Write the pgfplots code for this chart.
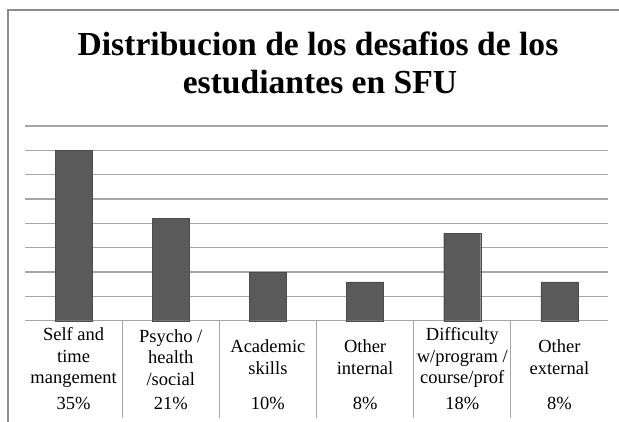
\documentclass[border=0pt]{standalone}
\usepackage{pgfplots}
\pgfplotsset{compat=1.18}
\usepackage{fontspec}
\setmainfont{Liberation Serif}
\definecolor{barc}{HTML}{5A5A5A}
\definecolor{gridc}{HTML}{A6A6A6}
\definecolor{framec}{HTML}{8C8C8C}
\begin{document}
\begin{tikzpicture}
\path[use as bounding box] (0,0) rectangle (619bp,422bp);
\draw[framec, line width=1.5bp] (8bp,0) -- (8bp,412bp) -- (619bp,412bp);
\node[anchor=base, font=\fontsize{33.6bp}{38bp}\selectfont\bfseries] at (318bp,366bp) {Distribucion de los desafios de los};
\node[anchor=base, font=\fontsize{33.6bp}{38bp}\selectfont\bfseries] at (320bp,328bp) {estudiantes en SFU};
\begin{axis}[
  at={(25bp,101.3bp)}, anchor=south west,
  scale only axis, width=583bp, height=194.7bp,
  xmin=-0.5, xmax=5.5, ymin=0, ymax=40,
  clip=false,
  axis lines*=left,
  y axis line style={draw=none},
  x axis line style={draw=gridc, line width=1.3bp},
  ytick={0,5,...,40}, yticklabels={},
  ytick style={draw=none},
  ymajorgrids, grid style={draw=gridc, line width=1.3bp},
  xtick=data,
  xticklabels={{Self and\\time\\mangement},{Psycho /\\health\\/social},{Academic\\skills},{Other\\internal},{Difficulty\\w/program /\\course/prof},{Other\\external}},
  xticklabel style={align=center, anchor=center, yshift=-36.8bp, font=\fontsize{18.5bp}{21.7bp}\selectfont},
  major tick length=0pt,
  minor xtick={0.5,1.5,2.5,3.5,4.5},
  minor tick length=97bp,
  tick align=outside,
  xtick pos=bottom,
  minor tick style={draw=gridc, line width=1.2bp},
]
\addplot[ybar, bar width=37bp, fill=barc, draw=barc!85!black] coordinates {(0,35) (1,21) (2,10) (3,8) (4,18) (5,8)};
\node[anchor=base, font=\fontsize{18.5bp}{21.7bp}\selectfont, yshift=-88.6bp] at (axis cs:0,0) {35\%};
\node[anchor=base, font=\fontsize{18.5bp}{21.7bp}\selectfont, yshift=-88.6bp] at (axis cs:1,0) {21\%};
\node[anchor=base, font=\fontsize{18.5bp}{21.7bp}\selectfont, yshift=-88.6bp] at (axis cs:2,0) {10\%};
\node[anchor=base, font=\fontsize{18.5bp}{21.7bp}\selectfont, yshift=-88.6bp] at (axis cs:3,0) {8\%};
\node[anchor=base, font=\fontsize{18.5bp}{21.7bp}\selectfont, yshift=-88.6bp] at (axis cs:4,0) {18\%};
\node[anchor=base, font=\fontsize{18.5bp}{21.7bp}\selectfont, yshift=-88.6bp] at (axis cs:5,0) {8\%};
\end{axis}
\end{tikzpicture}
\end{document}
